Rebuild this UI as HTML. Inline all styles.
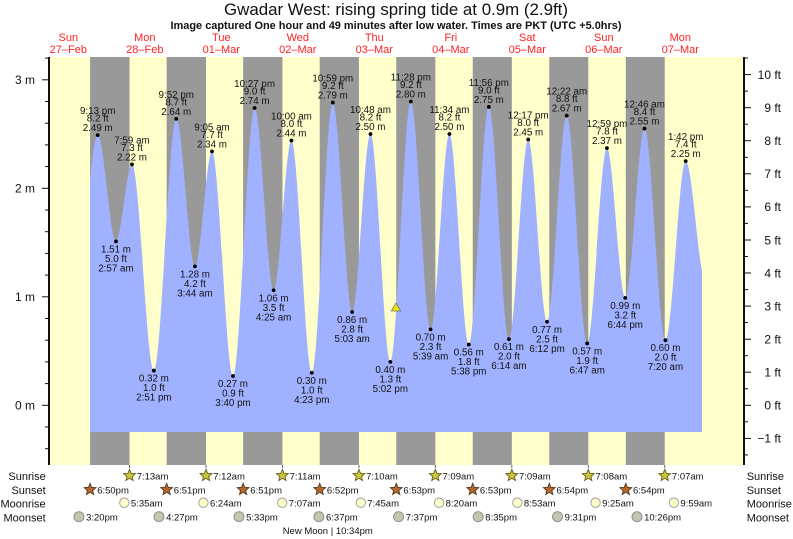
<!DOCTYPE html>
<html>
<head>
<meta charset="utf-8">
<style>
html,body{margin:0;padding:0;background:#fff;}
svg{display:block;}
text{font-family:"Liberation Sans",Arial,Helvetica,sans-serif;}
.l{font-size:9.8px;fill:#111;text-anchor:middle;}
.ax{font-size:12px;fill:#111;}
.day{font-size:11px;fill:#f22;text-anchor:middle;}
.ev{font-size:9.5px;fill:#111;}
.rl{font-size:11px;fill:#111;}
</style>
</head>
<body>
<svg width="793" height="539" viewBox="0 0 793 539" xmlns="http://www.w3.org/2000/svg">
<rect x="0" y="0" width="793" height="539" fill="#fff"/>
<!-- Title -->
<text x="396" y="15" font-size="16.5" text-anchor="middle" textLength="344" lengthAdjust="spacingAndGlyphs" fill="#111">Gwadar West: rising  spring tide at 0.9m (2.9ft)</text>
<text x="396" y="29" font-size="10.8" font-weight="bold" text-anchor="middle" textLength="451" lengthAdjust="spacingAndGlyphs" fill="#111">Image captured One hour and 49 minutes after low water. Times are PKT (UTC +5.0hrs)</text>

<!-- Day labels -->
<g class="day">
<text x="68.3" y="41">Sun</text><text x="68.3" y="53">27–Feb</text>
<text x="144.8" y="41">Mon</text><text x="144.8" y="53">28–Feb</text>
<text x="221.3" y="41">Tue</text><text x="221.3" y="53">01–Mar</text>
<text x="297.8" y="41">Wed</text><text x="297.8" y="53">02–Mar</text>
<text x="374.3" y="41">Thu</text><text x="374.3" y="53">03–Mar</text>
<text x="450.8" y="41">Fri</text><text x="450.8" y="53">04–Mar</text>
<text x="527.3" y="41">Sat</text><text x="527.3" y="53">05–Mar</text>
<text x="603.8" y="41">Sun</text><text x="603.8" y="53">06–Mar</text>
<text x="680.3" y="41">Mon</text><text x="680.3" y="53">07–Mar</text>
</g>

<!-- Plot background -->
<rect x="50" y="57" width="693" height="408" fill="#ffffcc"/>
<g fill="#999999">
<rect x="90.08" y="57" width="39.47" height="408"/>
<rect x="166.63" y="57" width="39.37" height="408"/>
<rect x="243.13" y="57" width="39.32" height="408"/>
<rect x="319.69" y="57" width="39.22" height="408"/>
<rect x="396.24" y="57" width="39.10" height="408"/>
<rect x="472.74" y="57" width="39.10" height="408"/>
<rect x="549.29" y="57" width="39.00" height="408"/>
<rect x="625.80" y="57" width="38.95" height="408"/>
</g>

<!-- Tide fill -->
<defs>
<clipPath id="dc"><rect x="90" y="0" width="612" height="432"/></clipPath>
</defs>
<path clip-path="url(#dc)" fill="#a0b2ff" d="M71.49,361.9
C80.22,361.9 88.95,135.13 97.68,135.13
C103.77,135.13 109.86,241.46 115.95,241.46
C121.30,241.46 126.65,164.43 132.00,164.43
C139.29,164.43 146.59,370.58 153.88,370.58
C161.34,370.58 168.79,118.86 176.25,118.86
C182.48,118.86 188.72,266.42 194.95,266.42
C200.63,266.42 206.32,151.41 212.00,151.41
C219.00,151.41 225.99,376.0 232.99,376.0
C240.20,376.0 247.40,108.01 254.61,108.01
C260.95,108.01 267.29,290.29 273.63,290.29
C279.56,290.29 285.50,140.56 291.43,140.56
C298.21,140.56 304.99,372.75 311.77,372.75
C318.78,372.75 325.80,102.58 332.81,102.58
C339.26,102.58 345.70,311.99 352.15,311.99
C358.26,311.99 364.37,134.05 370.48,134.05
C377.10,134.05 383.72,361.9 390.34,361.9
C397.18,361.9 404.01,101.5 410.85,101.5
C417.42,101.5 423.99,329.35 430.56,329.35
C436.85,329.35 443.13,134.05 449.42,134.05
C455.87,134.05 462.31,344.54 468.76,344.54
C475.45,344.54 482.15,106.92 488.84,106.92
C495.53,106.92 502.23,339.11 508.92,339.11
C515.35,339.11 521.77,139.47 528.20,139.47
C534.49,139.47 540.77,321.75 547.06,321.75
C553.61,321.75 560.17,115.60 566.72,115.60
C573.54,115.60 580.35,343.45 587.17,343.45
C593.76,343.45 600.34,148.15 606.93,148.15
C613.04,148.15 619.15,297.88 625.26,297.88
C631.67,297.88 638.08,128.62 644.49,128.62
C651.47,128.62 658.45,340.2 665.43,340.2
C672.19,340.2 678.96,161.17 685.72,161.17
C692.41,161.17 699.11,282.69 705.80,282.69
L705.8,432 L71.49,432 Z"/>

<!-- small bottom ticks -->
<g stroke="#666" stroke-width="1">
<line x1="129.5" y1="465" x2="129.5" y2="468"/><line x1="206" y1="465" x2="206" y2="468"/>
<line x1="282.5" y1="465" x2="282.5" y2="468"/><line x1="359" y1="465" x2="359" y2="468"/>
<line x1="435.3" y1="465" x2="435.3" y2="468"/><line x1="511.8" y1="465" x2="511.8" y2="468"/>
<line x1="588.3" y1="465" x2="588.3" y2="468"/><line x1="664.8" y1="465" x2="664.8" y2="468"/>
</g>

<!-- Axes -->
<line x1="49" y1="57" x2="49" y2="465" stroke="#111" stroke-width="2"/>
<line x1="744" y1="57" x2="744" y2="465" stroke="#111" stroke-width="2"/>
<g stroke="#111" stroke-width="1">
<line x1="42" y1="405.3" x2="49" y2="405.3"/><line x1="42" y1="296.8" x2="49" y2="296.8"/>
<line x1="42" y1="188.3" x2="49" y2="188.3"/><line x1="42" y1="79.8" x2="49" y2="79.8"/>
<line x1="45" y1="448.7" x2="49" y2="448.7"/><line x1="45" y1="427.0" x2="49" y2="427.0"/>
<line x1="45" y1="383.6" x2="49" y2="383.6"/><line x1="45" y1="361.9" x2="49" y2="361.9"/>
<line x1="45" y1="340.2" x2="49" y2="340.2"/><line x1="45" y1="318.5" x2="49" y2="318.5"/>
<line x1="45" y1="275.1" x2="49" y2="275.1"/><line x1="45" y1="253.4" x2="49" y2="253.4"/>
<line x1="45" y1="231.7" x2="49" y2="231.7"/><line x1="45" y1="210.0" x2="49" y2="210.0"/>
<line x1="45" y1="166.6" x2="49" y2="166.6"/><line x1="45" y1="144.9" x2="49" y2="144.9"/>
<line x1="45" y1="123.2" x2="49" y2="123.2"/><line x1="45" y1="101.5" x2="49" y2="101.5"/>
<line x1="45" y1="58.1" x2="49" y2="58.1"/>
<!-- right -->
<line x1="744" y1="438.4" x2="751" y2="438.4"/><line x1="744" y1="405.3" x2="751" y2="405.3"/>
<line x1="744" y1="372.2" x2="751" y2="372.2"/><line x1="744" y1="339.2" x2="751" y2="339.2"/>
<line x1="744" y1="306.1" x2="751" y2="306.1"/><line x1="744" y1="273.0" x2="751" y2="273.0"/>
<line x1="744" y1="240.0" x2="751" y2="240.0"/><line x1="744" y1="206.9" x2="751" y2="206.9"/>
<line x1="744" y1="173.8" x2="751" y2="173.8"/><line x1="744" y1="140.7" x2="751" y2="140.7"/>
<line x1="744" y1="107.7" x2="751" y2="107.7"/><line x1="744" y1="74.6" x2="751" y2="74.6"/>
<line x1="744" y1="454.9" x2="748" y2="454.9"/><line x1="744" y1="421.8" x2="748" y2="421.8"/>
<line x1="744" y1="388.8" x2="748" y2="388.8"/><line x1="744" y1="355.7" x2="748" y2="355.7"/>
<line x1="744" y1="322.6" x2="748" y2="322.6"/><line x1="744" y1="289.6" x2="748" y2="289.6"/>
<line x1="744" y1="256.5" x2="748" y2="256.5"/><line x1="744" y1="223.4" x2="748" y2="223.4"/>
<line x1="744" y1="190.3" x2="748" y2="190.3"/><line x1="744" y1="157.3" x2="748" y2="157.3"/>
<line x1="744" y1="124.2" x2="748" y2="124.2"/><line x1="744" y1="91.1" x2="748" y2="91.1"/>
<line x1="744" y1="58.0" x2="748" y2="58.0"/>
</g>
<g class="ax" text-anchor="end">
<text x="35" y="84.1">3 m</text><text x="35" y="192.6">2 m</text>
<text x="35" y="301.1">1 m</text><text x="35" y="409.6">0 m</text>
<text x="781" y="78.9">10 ft</text><text x="781" y="112">9 ft</text>
<text x="781" y="145">8 ft</text><text x="781" y="178.1">7 ft</text>
<text x="781" y="211.2">6 ft</text><text x="781" y="244.3">5 ft</text>
<text x="781" y="277.3">4 ft</text><text x="781" y="310.4">3 ft</text>
<text x="781" y="343.5">2 ft</text><text x="781" y="376.5">1 ft</text>
<text x="781" y="409.6">0 ft</text><text x="781" y="442.7">−1 ft</text>
</g>

<!-- Dots -->
<g fill="#000">
<circle cx="97.68" cy="135.13" r="1.9"/><circle cx="115.95" cy="241.46" r="1.9"/>
<circle cx="132.00" cy="164.43" r="1.9"/><circle cx="153.88" cy="370.58" r="1.9"/>
<circle cx="176.25" cy="118.86" r="1.9"/><circle cx="194.95" cy="266.42" r="1.9"/>
<circle cx="212.00" cy="151.41" r="1.9"/><circle cx="232.99" cy="376.0" r="1.9"/>
<circle cx="254.61" cy="108.01" r="1.9"/><circle cx="273.63" cy="290.29" r="1.9"/>
<circle cx="291.43" cy="140.56" r="1.9"/><circle cx="311.77" cy="372.75" r="1.9"/>
<circle cx="332.81" cy="102.58" r="1.9"/><circle cx="352.15" cy="311.99" r="1.9"/>
<circle cx="370.48" cy="134.05" r="1.9"/><circle cx="390.34" cy="361.9" r="1.9"/>
<circle cx="410.85" cy="101.5" r="1.9"/><circle cx="430.56" cy="329.35" r="1.9"/>
<circle cx="449.42" cy="134.05" r="1.9"/><circle cx="468.76" cy="344.54" r="1.9"/>
<circle cx="488.84" cy="106.92" r="1.9"/><circle cx="508.92" cy="339.11" r="1.9"/>
<circle cx="528.20" cy="139.47" r="1.9"/><circle cx="547.06" cy="321.75" r="1.9"/>
<circle cx="566.72" cy="115.60" r="1.9"/><circle cx="587.17" cy="343.45" r="1.9"/>
<circle cx="606.93" cy="148.15" r="1.9"/><circle cx="625.26" cy="297.88" r="1.9"/>
<circle cx="644.49" cy="128.62" r="1.9"/><circle cx="665.43" cy="340.2" r="1.9"/>
<circle cx="685.72" cy="161.17" r="1.9"/>
</g>

<!-- High labels -->
<g class="l">
<text x="97.68" y="114.1">9:13 pm</text><text x="97.68" y="121.6">8.2 ft</text><text x="97.68" y="131.1">2.49 m</text>
<text x="132.00" y="143.4">7:59 am</text><text x="132.00" y="150.9">7.3 ft</text><text x="132.00" y="160.4">2.22 m</text>
<text x="176.25" y="97.9">9:52 pm</text><text x="176.25" y="105.4">8.7 ft</text><text x="176.25" y="114.9">2.64 m</text>
<text x="212.00" y="130.4">9:05 am</text><text x="212.00" y="137.9">7.7 ft</text><text x="212.00" y="147.4">2.34 m</text>
<text x="254.61" y="87.0">10:27 pm</text><text x="254.61" y="94.5">9.0 ft</text><text x="254.61" y="104.0">2.74 m</text>
<text x="291.43" y="119.6">10:00 am</text><text x="291.43" y="127.1">8.0 ft</text><text x="291.43" y="136.6">2.44 m</text>
<text x="332.81" y="81.6">10:59 pm</text><text x="332.81" y="89.1">9.2 ft</text><text x="332.81" y="98.6">2.79 m</text>
<text x="370.48" y="113.0">10:48 am</text><text x="370.48" y="120.5">8.2 ft</text><text x="370.48" y="130.0">2.50 m</text>
<text x="410.85" y="80.5">11:28 pm</text><text x="410.85" y="88.0">9.2 ft</text><text x="410.85" y="97.5">2.80 m</text>
<text x="449.42" y="113.0">11:34 am</text><text x="449.42" y="120.5">8.2 ft</text><text x="449.42" y="130.0">2.50 m</text>
<text x="488.84" y="85.9">11:56 pm</text><text x="488.84" y="93.4">9.0 ft</text><text x="488.84" y="102.9">2.75 m</text>
<text x="528.20" y="118.5">12:17 pm</text><text x="528.20" y="126.0">8.0 ft</text><text x="528.20" y="135.5">2.45 m</text>
<text x="566.72" y="94.6">12:22 am</text><text x="566.72" y="102.1">8.8 ft</text><text x="566.72" y="111.6">2.67 m</text>
<text x="606.93" y="127.1">12:59 pm</text><text x="606.93" y="134.6">7.8 ft</text><text x="606.93" y="144.1">2.37 m</text>
<text x="644.49" y="107.6">12:46 am</text><text x="644.49" y="115.1">8.4 ft</text><text x="644.49" y="124.6">2.55 m</text>
<text x="685.72" y="140.2">1:42 pm</text><text x="685.72" y="147.7">7.4 ft</text><text x="685.72" y="157.2">2.25 m</text>
</g>

<!-- Low labels -->
<g class="l">
<text x="115.95" y="252.5">1.51 m</text><text x="115.95" y="262.0">5.0 ft</text><text x="115.95" y="271.5">2:57 am</text>
<text x="153.88" y="381.6">0.32 m</text><text x="153.88" y="391.1">1.0 ft</text><text x="153.88" y="400.6">2:51 pm</text>
<text x="194.95" y="277.4">1.28 m</text><text x="194.95" y="286.9">4.2 ft</text><text x="194.95" y="296.4">3:44 am</text>
<text x="232.99" y="387.0">0.27 m</text><text x="232.99" y="396.5">0.9 ft</text><text x="232.99" y="406.0">3:40 pm</text>
<text x="273.63" y="301.3">1.06 m</text><text x="273.63" y="310.8">3.5 ft</text><text x="273.63" y="320.3">4:25 am</text>
<text x="311.77" y="383.8">0.30 m</text><text x="311.77" y="393.3">1.0 ft</text><text x="311.77" y="402.8">4:23 pm</text>
<text x="352.15" y="323.0">0.86 m</text><text x="352.15" y="332.5">2.8 ft</text><text x="352.15" y="342.0">5:03 am</text>
<text x="390.34" y="372.9">0.40 m</text><text x="390.34" y="382.4">1.3 ft</text><text x="390.34" y="391.9">5:02 pm</text>
<text x="430.56" y="340.4">0.70 m</text><text x="430.56" y="349.9">2.3 ft</text><text x="430.56" y="359.4">5:39 am</text>
<text x="468.76" y="355.5">0.56 m</text><text x="468.76" y="365.0">1.8 ft</text><text x="468.76" y="374.5">5:38 pm</text>
<text x="508.92" y="350.1">0.61 m</text><text x="508.92" y="359.6">2.0 ft</text><text x="508.92" y="369.1">6:14 am</text>
<text x="547.06" y="332.8">0.77 m</text><text x="547.06" y="342.3">2.5 ft</text><text x="547.06" y="351.8">6:12 pm</text>
<text x="587.17" y="354.5">0.57 m</text><text x="587.17" y="364.0">1.9 ft</text><text x="587.17" y="373.5">6:47 am</text>
<text x="625.26" y="308.9">0.99 m</text><text x="625.26" y="318.4">3.2 ft</text><text x="625.26" y="327.9">6:44 pm</text>
<text x="665.43" y="351.2">0.60 m</text><text x="665.43" y="360.7">2.0 ft</text><text x="665.43" y="370.2">7:20 am</text>
</g>

<!-- current marker -->
<polygon points="396,303 400.7,311 391.3,311" fill="#e6e600" stroke="#777" stroke-width="0.8"/>

<!-- Bottom rows labels -->
<g class="rl" text-anchor="end">
<text x="45.7" y="480">Sunrise</text>
<text x="45.7" y="494">Sunset</text>
<text x="45.7" y="507.5">Moonrise</text>
<text x="45.7" y="521.5">Moonset</text>
</g>
<g class="rl">
<text x="746.7" y="480">Sunrise</text>
<text x="746.7" y="494">Sunset</text>
<text x="746.7" y="507.5">Moonrise</text>
<text x="746.7" y="521.5">Moonset</text>
</g>

<defs>
<polygon id="star" points="0,-6.2 1.6,-2.2 5.9,-1.9 2.6,1.0 3.6,5.0 0,2.8 -3.6,5.0 -2.6,1.0 -5.9,-1.9 -1.6,-2.2"/>
</defs>
<!-- Sunrise -->
<g fill="#c8c83a" stroke="#6a5a20" stroke-width="0.9">
<use href="#star" x="129.55" y="475.5"/><use href="#star" x="206.0" y="475.5"/>
<use href="#star" x="282.45" y="475.5"/><use href="#star" x="358.91" y="475.5"/>
<use href="#star" x="435.34" y="475.5"/><use href="#star" x="511.84" y="475.5"/>
<use href="#star" x="588.29" y="475.5"/><use href="#star" x="664.75" y="475.5"/>
</g>
<g class="ev">
<text x="136.7" y="479.5">7:13am</text><text x="213.2" y="479.5">7:12am</text>
<text x="289.6" y="479.5">7:11am</text><text x="366.1" y="479.5">7:10am</text>
<text x="442.5" y="479.5">7:09am</text><text x="519.0" y="479.5">7:09am</text>
<text x="595.5" y="479.5">7:08am</text><text x="671.9" y="479.5">7:07am</text>
</g>
<!-- Sunset -->
<g fill="#b2682e" stroke="#5a3a1a" stroke-width="0.9">
<use href="#star" x="90.08" y="489.5"/><use href="#star" x="166.63" y="489.5"/>
<use href="#star" x="243.13" y="489.5"/><use href="#star" x="319.69" y="489.5"/>
<use href="#star" x="396.24" y="489.5"/><use href="#star" x="472.74" y="489.5"/>
<use href="#star" x="549.29" y="489.5"/><use href="#star" x="625.80" y="489.5"/>
</g>
<g class="ev">
<text x="97.2" y="493.5">6:50pm</text><text x="173.8" y="493.5">6:51pm</text>
<text x="250.3" y="493.5">6:51pm</text><text x="326.9" y="493.5">6:52pm</text>
<text x="403.4" y="493.5">6:53pm</text><text x="479.9" y="493.5">6:53pm</text>
<text x="556.5" y="493.5">6:54pm</text><text x="633.0" y="493.5">6:54pm</text>
</g>
<!-- Moonrise -->
<g fill="#ffffcc" stroke="#999" stroke-width="0.9">
<circle cx="124.35" cy="502.7" r="4.7"/><circle cx="203.45" cy="502.7" r="4.7"/>
<circle cx="282.24" cy="502.7" r="4.7"/><circle cx="360.77" cy="502.7" r="4.7"/>
<circle cx="439.11" cy="502.7" r="4.7"/><circle cx="517.36" cy="502.7" r="4.7"/>
<circle cx="595.57" cy="502.7" r="4.7"/><circle cx="673.88" cy="502.7" r="4.7"/>
</g>
<g class="ev">
<text x="130.9" y="506.3">5:35am</text><text x="210.0" y="506.3">6:24am</text>
<text x="288.8" y="506.3">7:07am</text><text x="367.3" y="506.3">7:45am</text>
<text x="445.6" y="506.3">8:20am</text><text x="523.9" y="506.3">8:53am</text>
<text x="602.1" y="506.3">9:25am</text><text x="680.4" y="506.3">9:59am</text>
</g>
<!-- Moonset -->
<g fill="#c6c6b0" stroke="#888" stroke-width="0.9">
<circle cx="78.93" cy="516.7" r="5"/><circle cx="158.98" cy="516.7" r="5"/>
<circle cx="238.99" cy="516.7" r="5"/><circle cx="318.89" cy="516.7" r="5"/>
<circle cx="398.58" cy="516.7" r="5"/><circle cx="478.16" cy="516.7" r="5"/>
<circle cx="557.52" cy="516.7" r="5"/><circle cx="637.0" cy="516.7" r="5"/>
</g>
<g class="ev">
<text x="86.1" y="520.3">3:20pm</text><text x="166.1" y="520.3">4:27pm</text>
<text x="246.1" y="520.3">5:33pm</text><text x="326.0" y="520.3">6:37pm</text>
<text x="405.7" y="520.3">7:37pm</text><text x="485.3" y="520.3">8:35pm</text>
<text x="564.6" y="520.3">9:31pm</text><text x="644.1" y="520.3">10:26pm</text>
</g>
<text class="ev" x="282.7" y="534.2">New Moon | 10:34pm</text>
</svg>
</body>
</html>
